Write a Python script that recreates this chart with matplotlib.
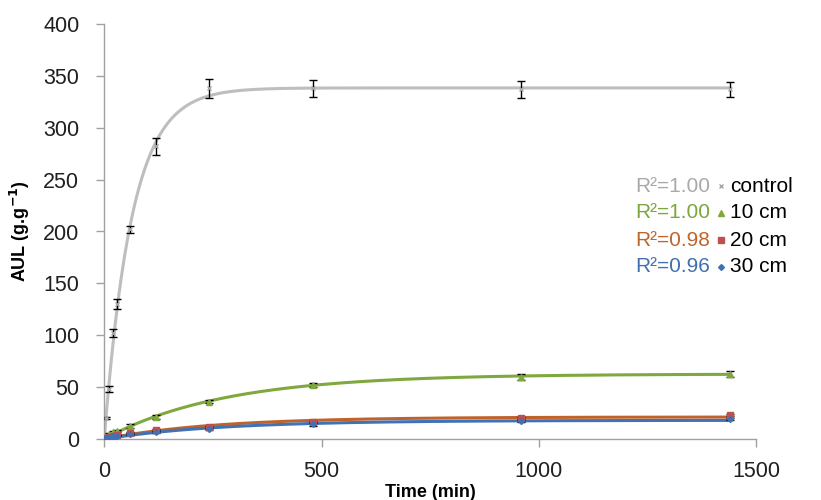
import numpy as np
import matplotlib.pyplot as plt

plt.rcParams['font.family'] = ['Liberation Sans', 'DejaVu Sans']

# sampling times (min)
time = [0, 5, 10, 20, 30, 60, 120, 240, 480, 960, 1440]

# absorbency under load (g/g) and standard deviations
control = [0, 20, 48, 102, 130, 202, 282, 338, 338, 337, 337]
control_sd = [0, 1, 3, 4, 5, 3, 8, 9, 8, 8, 7]
cm10 = [0, 2, 5, 7, 8, 12.5, 21, 36, 52, 60, 63]
cm10_sd = [0, 0.5, 1, 1, 1, 1.5, 2, 1.5, 1.5, 3, 3]
cm20 = [0, 1, 2, 3, 4, 6, 9, 12, 16, 20, 23]
cm20_sd = [0, 0.3, 0.5, 0.5, 0.5, 1, 1, 1, 1, 1, 1]
cm30 = [0, 0.8, 1.5, 2.5, 3, 4.5, 7, 10, 14, 17, 19]
cm30_sd = [0, 0.3, 0.5, 0.5, 0.5, 1, 1, 1, 1, 1, 1]

labels = ['control', '10 cm', '20 cm', '30 cm']
r2_text = ['R²=1.00', 'R²=1.00', 'R²=0.98', 'R²=0.96']
line_colors = ['#BEBEBE', '#7FA83E', '#C0632B', '#3F72B6']
marker_colors = ['#A6A6A6', '#7FA83E', '#C0504D', '#4070B5']
r2_colors = ['#A9A9A9', '#7AA63A', '#C0652A', '#4070B0']
markers = ['x', '^', 's', 'D']
marker_sizes = [3, 4, 4, 3]


def fit_first_order(t, y):
    # y = A * (1 - exp(-k t)), least squares over a grid of k
    t = np.asarray(t, float)
    y = np.asarray(y, float)
    best = None
    for k in np.logspace(-4, 0, 2000):
        f = 1 - np.exp(-k * t)
        a = np.sum(y * f) / np.sum(f * f)
        sse = np.sum((y - a * f) ** 2)
        if best is None or sse < best[0]:
            best = (sse, a, k)
    return best[1], best[2]


fig = plt.figure(figsize=(8.21, 5), dpi=100)
ax = fig.add_axes([0.127, 0.122, 0.794, 0.83])

series = [(control, control_sd), (cm10, cm10_sd), (cm20, cm20_sd), (cm30, cm30_sd)]
tt = np.linspace(0, 1440, 600)
for i, (vals, sd) in enumerate(series):
    a, k = fit_first_order(time, vals)
    ax.plot(tt, a * (1 - np.exp(-k * tt)), color=line_colors[i], lw=2.2, zorder=2)
    ax.errorbar(time, vals, yerr=sd, fmt='none', ecolor='black', elinewidth=1,
                capsize=3, capthick=1, zorder=3)
    ax.plot(time, vals, linestyle='none', marker=markers[i], ms=marker_sizes[i],
            color=marker_colors[i], mec=marker_colors[i], zorder=4)

ax.set_xlim(0, 1500)
ax.set_ylim(0, 400)
ax.set_xticks([0, 500, 1000, 1500])
ax.set_yticks(range(0, 401, 50))
for side in ['top', 'right']:
    ax.spines[side].set_visible(False)
for side in ['left', 'bottom']:
    ax.spines[side].set_color('#A0A0A0')
    ax.spines[side].set_linewidth(1)
ax.tick_params(colors='#A0A0A0', labelcolor='#202020', labelsize=15.5, length=6, width=1)
ax.tick_params(axis='y', pad=12)
ax.tick_params(axis='x', pad=10)

ax.set_xlabel('Time (min)', fontsize=13, fontweight='bold', labelpad=1)
ax.set_ylabel('AUL (g.g$^{\\mathbf{-1}}$)', fontsize=13, fontweight='bold', labelpad=8)

# legend with R^2 values of the fitted curves
rows_y = [186, 213, 240, 267]
for i in range(4):
    yf = 1 - rows_y[i] / 500
    fig.text(710 / 821, yf, r2_text[i], color=r2_colors[i], fontsize=15,
             ha='right', va='center')
    fig.lines.append(plt.Line2D([721 / 821], [yf], marker=markers[i],
                                ms=marker_sizes[i], color=marker_colors[i],
                                transform=fig.transFigure))
    fig.text(730 / 821, yf, labels[i], color='black', fontsize=15,
             ha='left', va='center')

fig.savefig('out.png', dpi=100)
